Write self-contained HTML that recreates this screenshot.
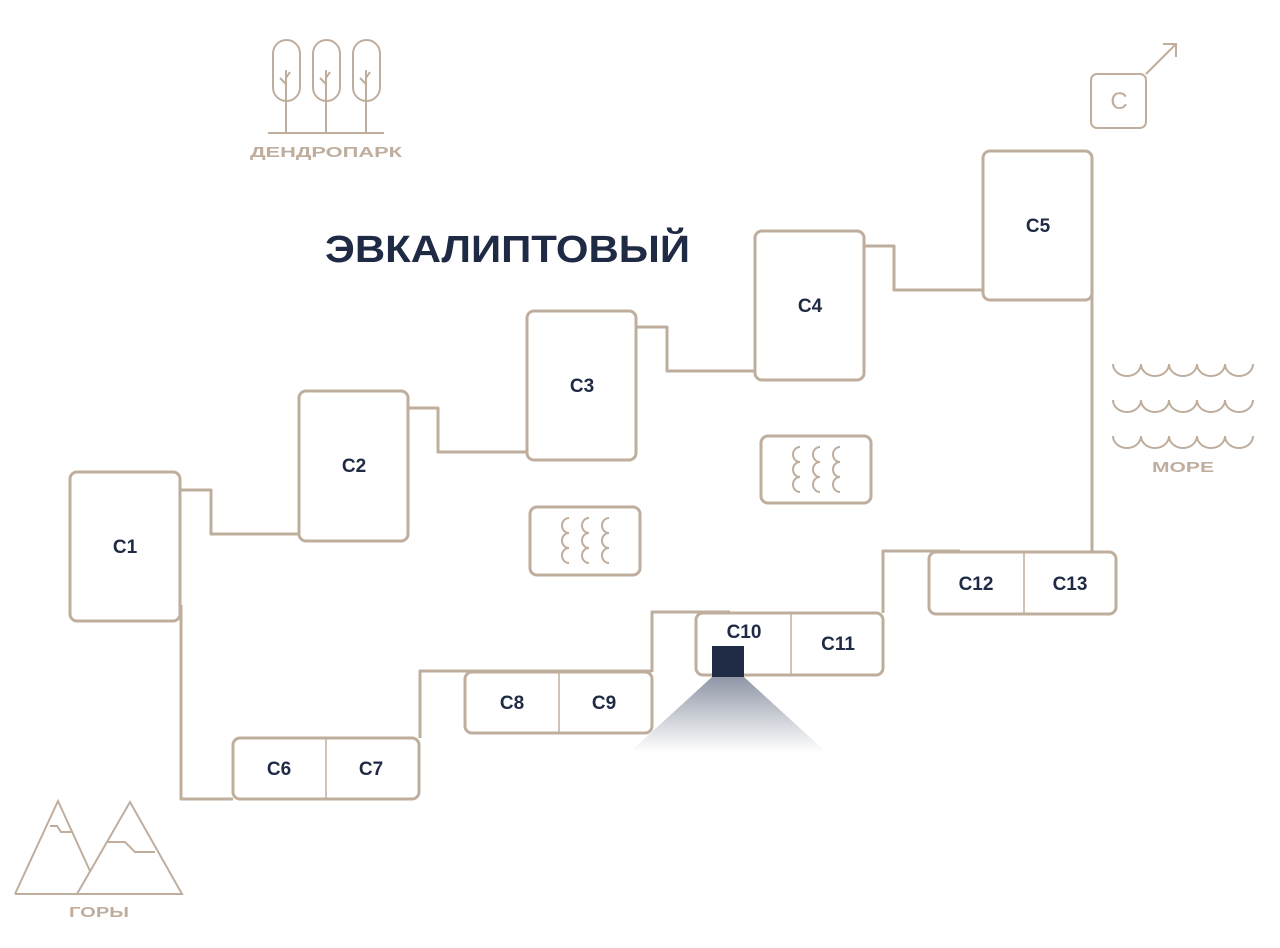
<!DOCTYPE html>
<html><head><meta charset="utf-8"><style>html,body{margin:0;padding:0;background:#fff}svg{display:block}</style></head>
<body>
<svg width="1280" height="948" viewBox="0 0 1280 948" xmlns="http://www.w3.org/2000/svg">
<defs>
<linearGradient id="g" x1="0" y1="0" x2="0" y2="1">
<stop offset="0" stop-color="#8f96a6"/><stop offset="1" stop-color="#ffffff"/>
</linearGradient>
<g id="rad" fill="none" stroke="#bfae9e" stroke-width="2">
<path d="M8 0 a7 7.5 0 0 0 0 15 a7 7.5 0 0 0 0 15 a7 7.5 0 0 0 0 15"/>
</g>
<path id="wave" d="M0 0 a14 12 0 0 0 28 0 a14 12 0 0 0 28 0 a14 12 0 0 0 28 0 a14 12 0 0 0 28 0 a14 12 0 0 0 28 0" fill="none" stroke="#bfae9e" stroke-width="2"/>
</defs>
<g fill="none" stroke="#bfae9e" stroke-width="3" stroke-linejoin="round">
<polyline points="180,490 211,490 211,534 299,534"/>
<polyline points="408,408 438,408 438,452 527,452"/>
<polyline points="636,327 667,327 667,371 755,371"/>
<polyline points="864,246 894,246 894,290 983,290"/>
<polyline points="181,605 181,799 233,799"/>
<polyline points="420,738 420,671 652,671"/>
<polyline points="652,672 652,612 730,612"/>
<polyline points="883,613 883,551 960,551"/>
<polyline points="1092,292 1092,552"/>
<rect x="70" y="472" width="110" height="149" rx="7" fill="#fff"/>
<rect x="299" y="391" width="109" height="150" rx="7" fill="#fff"/>
<rect x="527" y="311" width="109" height="149" rx="7" fill="#fff"/>
<rect x="755" y="231" width="109" height="149" rx="7" fill="#fff"/>
<rect x="983" y="151" width="109" height="149" rx="7" fill="#fff"/>
<rect x="233" y="738" width="186" height="61" rx="7" fill="#fff"/>
<rect x="465" y="672" width="187" height="61" rx="7" fill="#fff"/>
<rect x="696" y="613" width="187" height="62" rx="7" fill="#fff"/>
<rect x="929" y="552" width="187" height="62" rx="7" fill="#fff"/>
<rect x="530" y="507" width="110" height="68" rx="7"/>
<rect x="761" y="436" width="110" height="67" rx="7"/>
</g>
<g stroke="#bfae9e" stroke-width="1.5">
<line x1="326" y1="739" x2="326" y2="798"/>
<line x1="559" y1="673" x2="559" y2="732"/>
<line x1="791" y1="614" x2="791" y2="674"/>
<line x1="1024" y1="553" x2="1024" y2="613"/>
</g>
<use href="#rad" x="561" y="518"/><use href="#rad" x="581" y="518"/><use href="#rad" x="601" y="518"/>
<use href="#rad" x="792" y="447"/><use href="#rad" x="812" y="447"/><use href="#rad" x="832" y="447"/>
<polygon points="712,677 744,677 826,752 630,752" fill="url(#g)"/>
<rect x="712" y="646" width="32" height="31" fill="#1f2a44"/>
<g font-family="Liberation Sans, sans-serif" font-weight="bold" fill="#1f2a44" font-size="19" text-anchor="middle">
<text x="125" y="553">C1</text><text x="354" y="472">C2</text><text x="582" y="392">C3</text>
<text x="810" y="312">C4</text><text x="1038" y="232">C5</text>
<text x="279" y="775">C6</text><text x="371" y="775">C7</text>
<text x="512" y="709">C8</text><text x="604" y="709">C9</text>
<text x="744" y="638">C10</text><text x="838" y="650">C11</text>
<text x="976" y="590">C12</text><text x="1070" y="590">C13</text>
</g>
<text x="325" y="262" font-family="Liberation Sans, sans-serif" font-weight="bold" font-size="38" fill="#1f2a44" textLength="365" lengthAdjust="spacingAndGlyphs">ЭВКАЛИПТОВЫЙ</text>
<g fill="none" stroke="#bfae9e" stroke-width="2">
<rect x="273" y="40" width="27" height="61" rx="13.5"/><rect x="313" y="40" width="27" height="61" rx="13.5"/><rect x="353" y="40" width="27" height="61" rx="13.5"/>
<path d="M286 70V133M280 78l6 6M290 72l-4 6M326 70V133M320 78l6 6M330 72l-4 6M366 70V133M360 78l6 6M370 72l-4 6M268 133H384"/>
<rect x="1091" y="74" width="55" height="54" rx="6"/>
<path d="M1146 74L1176 44M1163 44H1176V57"/>
<path d="M15 894H182L130 802L77 894M15 894L58 801L90 871M50 826H57L61 832H72M107 842H125L135 852H155"/>
</g>
<use href="#wave" x="1113" y="364"/><use href="#wave" x="1113" y="400"/><use href="#wave" x="1113" y="436"/>
<g font-family="Liberation Sans, sans-serif" font-weight="bold" fill="#bfae9e" text-anchor="middle">
<text x="326" y="157" font-size="15" textLength="152" lengthAdjust="spacingAndGlyphs">ДЕНДРОПАРК</text>
<text x="1119" y="109" font-size="24" font-weight="normal">C</text>
<text x="1183" y="472" font-size="15" textLength="62" lengthAdjust="spacingAndGlyphs">МОРЕ</text>
<text x="99" y="917" font-size="15" textLength="60" lengthAdjust="spacingAndGlyphs">ГОРЫ</text>
</g>
</svg>
</body></html>
